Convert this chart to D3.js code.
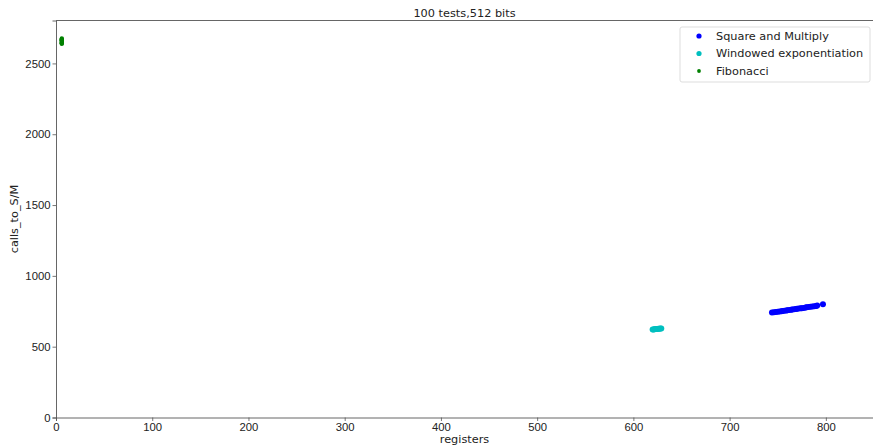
<!DOCTYPE html>
<html>
<head>
<meta charset="utf-8">
<script src="https://cdn.jsdelivr.net/npm/d3@7"></script>
<style>
  body { margin: 0; background: #fff; }
  svg { font-family: "DejaVu Sans", sans-serif; }
</style>
</head>
<body>
<div id="chart"></div>
<script>
// data
const smX = [744,746,748,750,752,754,755,757,759,760,762,764,765,767,769,770,772,774,775,777,779,780,782,784,786,788,790,791,797]
const smY = [741,743,745,747,749,751,752,754,756,757,759,761,762,764,766,767,769,771,772,774,776,778,780,782,784,786,788,790,799]
const weX = [620,621,622,623,624,625,626,627,628,629]
const weY = [621,622,623,624,624,625,626,627,628,629]
const fibX = [6,6,6,6,6,6,6,6,6]
const fibY = [2638,2643,2648,2653,2658,2663,2667,2671,2676]

const xTicks = [0,100,200,300,400,500,600,700,800]
const yTicks = [0,500,1000,1500,2000,2500]

const series = [
  {name: 'Square and Multiply', xs: smX, ys: smY, color: '#0000ff', r: 3, lr: 2.6},
  {name: 'Windowed exponentiation', xs: weX, ys: weY, color: '#00bfbf', r: 3, lr: 2.6},
  {name: 'Fibonacci', xs: fibX, ys: fibY, color: '#008000', r: 2.2, lr: 1.9}
]

const FS = '11.3px'
const W = 873, H = 448
const margin = {top: 20.5, right: 0, bottom: 30.5, left: 56}
const width = W - margin.left - margin.right,
  height = H - margin.top - margin.bottom

const svg = d3.select('#chart').append('svg')
  .attr('width', W)
  .attr('height', H)

const g = svg.append('g')
  .attr('transform', `translate(${margin.left},${margin.top})`)

const x = d3.scaleLinear().domain([0, 849]).range([0, width])
const y = d3.scaleLinear().domain([0, 2803]).range([height, 0])

// axes
const xAxis = g.append('g')
  .attr('transform', `translate(0,${height})`)
  .call(d3.axisBottom(x).tickValues(xTicks).tickFormat(d3.format('d')).tickSize(3.5).tickPadding(2))
const yAxis = g.append('g')
  .call(d3.axisLeft(y).tickValues(yTicks).tickFormat(d3.format('d')).tickSize(3.5).tickPadding(2))

for (const ax of [xAxis, yAxis]) {
  ax.select('.domain').attr('stroke', '#555').attr('stroke-width', 0.9)
  ax.selectAll('.tick line').attr('stroke', '#555').attr('stroke-width', 0.8)
  ax.selectAll('.tick text').attr('fill', '#222').style('font-size', FS)
}

// top spine
g.append('line')
  .attr('x1', 0).attr('x2', width)
  .attr('y1', 0).attr('y2', 0)
  .attr('stroke', '#555').attr('stroke-width', 0.9)

// points
series.forEach(s => {
  g.append('g').selectAll('circle')
    .data(s.xs.map((v, i) => [v, s.ys[i]]))
    .join('circle')
    .attr('cx', d => x(d[0]))
    .attr('cy', d => y(d[1]))
    .attr('r', s.r)
    .attr('fill', s.color)
})

// title and labels
svg.append('text')
  .attr('x', margin.left + width / 2).attr('y', 17.3)
  .attr('text-anchor', 'middle')
  .style('font-size', FS).attr('fill', '#222')
  .text('100 tests,512 bits')

svg.append('text')
  .attr('x', margin.left + width / 2).attr('y', 443)
  .attr('text-anchor', 'middle')
  .style('font-size', FS).attr('fill', '#222')
  .text('registers')

svg.append('text')
  .attr('transform', `translate(18,${margin.top + height / 2}) rotate(-90)`)
  .attr('text-anchor', 'middle')
  .style('font-size', FS).attr('fill', '#222')
  .text('calls_to_S/M')

// legend
const legend = svg.append('g').attr('transform', 'translate(680,27)')
legend.append('rect')
  .attr('width', 190).attr('height', 55)
  .attr('rx', 2)
  .attr('fill', '#fff').attr('stroke', '#ddd')

series.forEach((s, i) => {
  const row = legend.append('g').attr('transform', `translate(0,${9 + i * 17.5})`)
  row.append('circle').attr('cx', 19).attr('cy', 0).attr('r', s.lr).attr('fill', s.color)
  row.append('text').attr('x', 36).attr('y', 0).attr('dy', '0.35em')
    .style('font-size', FS).attr('fill', '#222')
    .text(s.name)
})
</script>
</body>
</html>
